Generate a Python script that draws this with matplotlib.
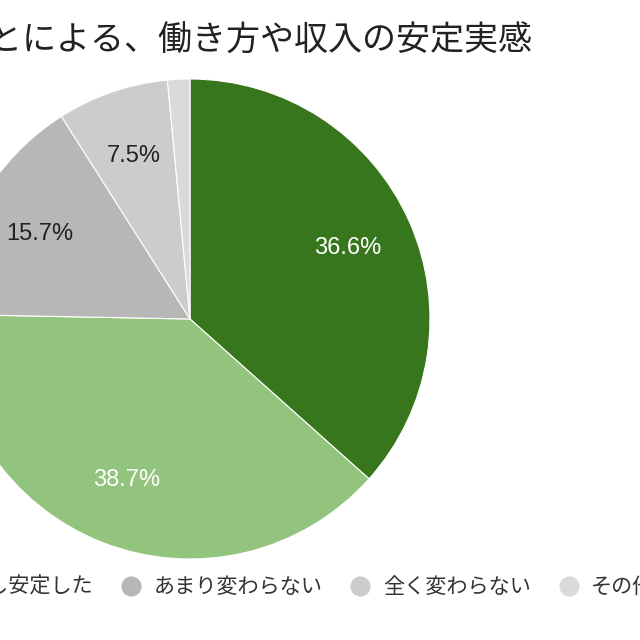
import matplotlib
matplotlib.use("Agg")
from matplotlib import pyplot as plt
from matplotlib.lines import Line2D

plt.rcParams['font.family'] = ['Noto Sans CJK JP', 'DejaVu Sans']

title = 'ことによる、働き方や収入の安定実感'
labels = ['安定した', '少し安定した', 'あまり変わらない', '全く変わらない', 'その他']
values = [36.6, 38.7, 15.7, 7.5, 1.5]
colors = ['#38761d', '#93c47d', '#b7b7b7', '#cccccc', '#dadada']
pct_colors = ['white', 'white', '#222222', '#222222', '#222222']

fig = plt.figure(figsize=(6.4, 6.4), dpi=100)
fig.patch.set_facecolor('white')

# pie centre at (190, 319) px, radius ~240 px -> left part falls off the canvas
r = 240
ax = fig.add_axes([(190 - r) / 640, (321 - r) / 640, 2 * r / 640, 2 * r / 640])
wedges, texts, autotexts = ax.pie(values, colors=colors, startangle=90, counterclock=False,
                                  autopct=lambda p: '%.1f%%' % p if p > 5 else '',
                                  pctdistance=0.72,
                                  wedgeprops=dict(edgecolor='white', linewidth=0.8))
for t, c in zip(autotexts, pct_colors):
    t.set_color(c)
    t.set_fontsize(17)
    t.set_family(['Liberation Sans', 'DejaVu Sans'])
ax.set_xlim(-1, 1)
ax.set_ylim(-1, 1)
ax.set_aspect('equal')
ax.axis('off')

fig.text(532 / 640, 1 - 41 / 640, title, ha='right', va='center', fontsize=24.5, color='#222222')

handles = [Line2D([], [], marker='o', linestyle='', markersize=13.5, markerfacecolor=c,
                  markeredgecolor=c) for c in colors]
fig.legend(handles, labels, loc='center', bbox_to_anchor=(221.5 / 640, 1 - 587 / 640), ncol=5,
           frameon=False, fontsize=15.2, handlelength=1.0, handletextpad=0.56,
           columnspacing=1.3, labelcolor='#333333')

plt.savefig('out.png', dpi=100, facecolor='white')
